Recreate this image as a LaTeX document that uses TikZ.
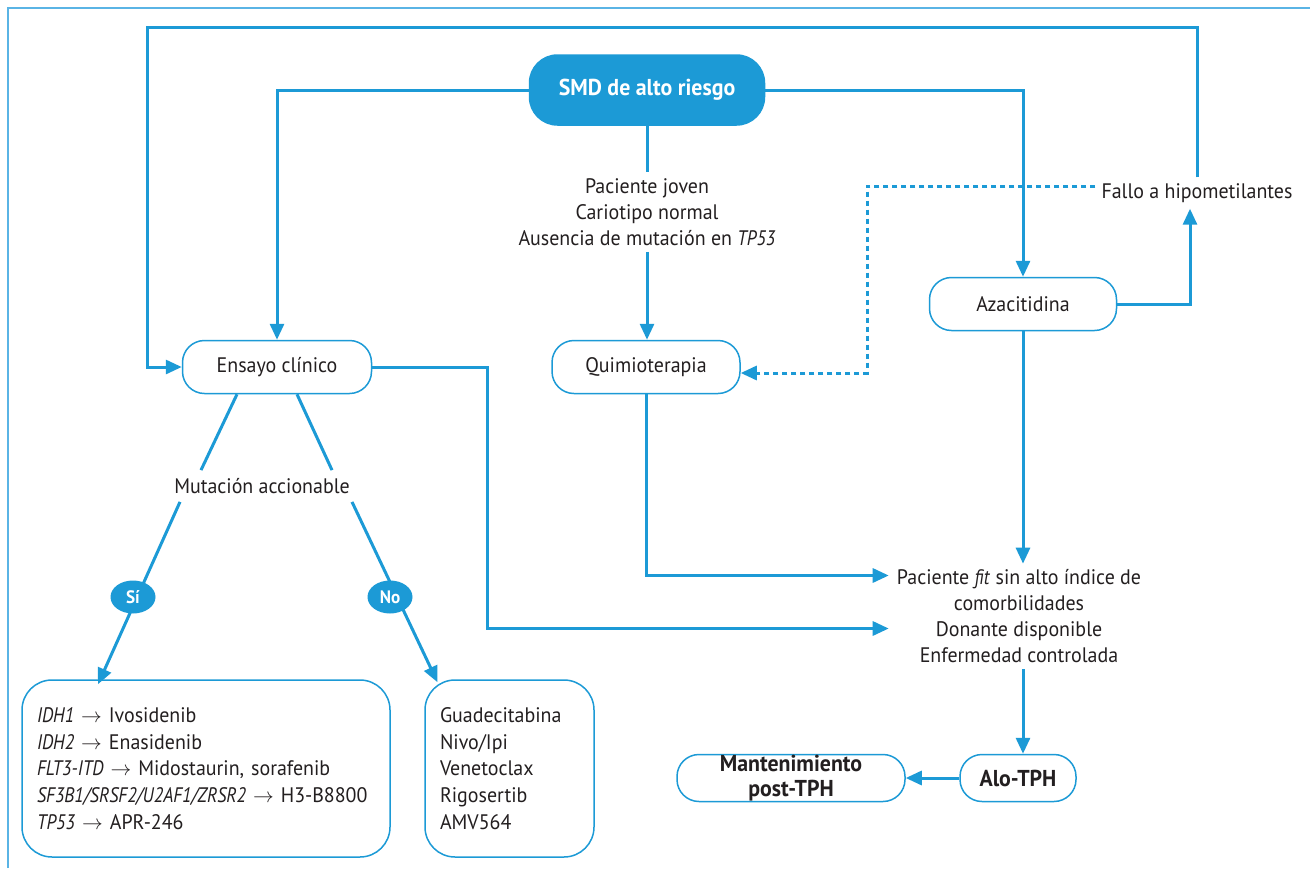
\documentclass[tikz,border=0pt]{standalone}
\usepackage{fontspec}
\setmainfont{PT Sans}[FakeStretch=0.95, ItalicFeatures={FakeStretch=0.86}]
\usetikzlibrary{arrows.meta,calc,shapes.geometric}
\definecolor{azul}{HTML}{1C9AD6}
\definecolor{marco}{HTML}{5AB4E5}
\definecolor{tinta}{HTML}{231F20}
\begin{document}
\begin{tikzpicture}[x=1pt,y=-1pt,
  txt/.style={text=tinta, font=\fontsize{21}{26}\selectfont, align=center, inner sep=6pt},
  caja/.style={txt, draw=azul, line width=1.5pt, rounded corners=22pt, minimum height=53pt},
  lista/.style={caja, rounded corners=30pt, minimum height=177pt, align=left, inner xsep=15pt, font=\fontsize{21}{26.8}\selectfont},
  negrita/.style={font=\fontsize{23}{26}\selectfont\bfseries},
  con/.style={draw=azul, line width=3pt},
  flecha/.style={con, -{Triangle[length=16pt,width=14pt]}},
  punteada/.style={flecha, dash pattern=on 5pt off 4pt},
  circulo/.style={ellipse, fill=azul, text=white, minimum width=45pt, minimum height=33pt, inner sep=0pt, font=\fontsize{18}{20}\selectfont\bfseries}
]
\useasboundingbox (0,0) rectangle (1310,868);
\fill[white] (0,0) rectangle (1310,868);
% outer frame
\draw[marco, line width=2pt] (8,868) -- (8,8) -- (1310,8);

% nodes
\node[caja, fill=azul, draw=azul, text=white, minimum width=235pt, minimum height=70pt,
      rounded corners=28pt, negrita] (smd) at (647,90) {SMD de alto riesgo};
\node[txt] (paciente) at (647,212) {Paciente joven\\Cariotipo normal\\Ausencia de mutación en \textit{TP53}};
\node[caja, minimum width=189pt] (ensayo) at (277,367) {Ensayo clínico};
\node[caja, minimum width=188pt] (quimio) at (646,367) {Quimioterapia};
\node[caja, minimum width=187pt] (aza) at (1023,304) {Azacitidina};
\node[txt] (fallo) at (1197,193) {Fallo a hipometilantes};
\node[txt] (mutacion) at (262,486) {Mutación accionable};
\node[txt, inner xsep=8pt] (fit) at (1019,616.5) {Paciente \textit{fit} sin alto índice de\\comorbilidades\\Donante disponible\\Enfermedad controlada};
\node[caja, minimum width=116pt, minimum height=47pt, negrita] (alo) at (1018,778) {Alo-TPH};
\node[caja, minimum width=228pt, minimum height=47pt, inner sep=0pt, font=\fontsize{23}{25}\selectfont\bfseries] (mant) at (791,778) {Mantenimiento\\post-TPH};
\node[lista, minimum width=368pt, text width=338pt] (si-caja) at (206,768.5)
  {\textit{IDH1} $\rightarrow$ Ivosidenib\\
   \textit{IDH2} $\rightarrow$ Enasidenib\\
   \textit{FLT3-ITD} $\rightarrow$ Midostaurin, sorafenib\\
   \textit{SF3B1/SRSF2/U2AF1/ZRSR2} $\rightarrow$ H3-B8800\\
   \textit{TP53} $\rightarrow$ APR-246};
\node[lista, minimum width=169pt, text width=139pt] (no-caja) at (509.5,768.5)
  {Guadecitabina\\Nivo/Ipi\\Venetoclax\\Rigosertib\\AMV564};

% connectors from the top node
\draw[flecha] (smd.west) -| (ensayo.north);
\draw[flecha] (smd.east) -| (aza.north);
\draw[con] (smd.south) -- (smd.south |- paciente.north);
\draw[flecha] (smd.south |- paciente.south) -- (smd.south |- quimio.north);

% failure loop
\coordinate (arribader) at (1197,27);
\coordinate (arribaizq) at (147,27);
\draw[flecha] (aza.east) -| ([xshift=-7pt]fallo.south);
\draw[flecha] (fallo.north) -- (arribader) -- (arribaizq) |- (ensayo.west);
\coordinate (dq) at (867,186);
\draw[punteada] (dq -| fallo.west) -- (dq) |- ([yshift=-6pt]quimio.east);

% routes to transplant
\coordinate (eb) at (487,628.5);
\draw[flecha] (ensayo.east) -| (eb) -- (eb -| fit.west);
\coordinate (qb) at (646,575.5);
\draw[flecha] (quimio.south) |- (qb -| fit.west);
\draw[flecha] (aza.south) -- (aza.south |- fit.north);
\draw[flecha] (aza.south |- fit.south) -- (aza.south |- alo.north);
\draw[flecha] (alo.west) -- (mant.east);

% actionable mutation branches
\draw[con] ([xshift=-40pt]ensayo.south) -- ([xshift=-61pt,yshift=2pt]mutacion.north);
\draw[con] ([xshift=20pt]ensayo.south) -- ([xshift=70pt,yshift=2pt]mutacion.north);
\draw[flecha] ([xshift=-82pt,yshift=-2pt]mutacion.south) -- ([xshift=-108pt,yshift=-5pt]si-caja.north);
\draw[flecha] ([xshift=90pt,yshift=-2pt]mutacion.south) -- ([xshift=-72pt,yshift=-3pt]no-caja.north);
\node[circulo] (si) at (133,597) {Sí};
\node[circulo] (no) at (390,597) {No};
\end{tikzpicture}
\end{document}
